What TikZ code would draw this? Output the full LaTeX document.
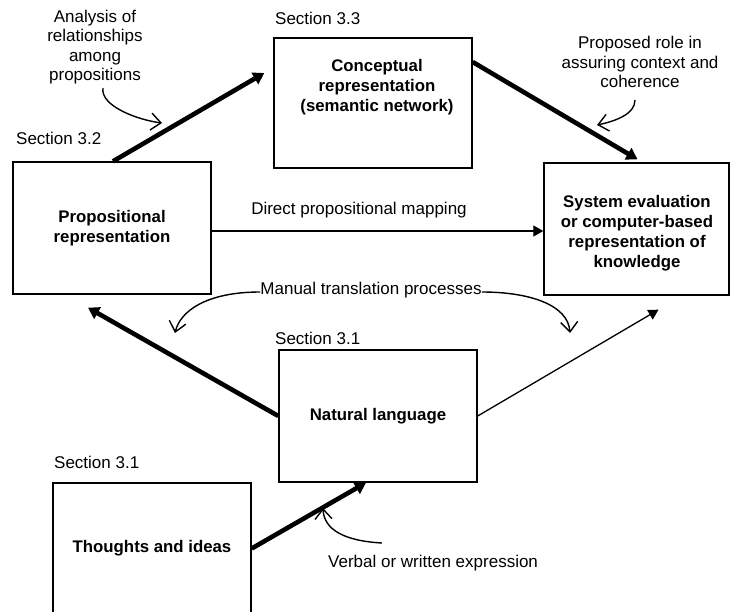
\documentclass[tikz,border=0pt]{standalone}
\usepackage{fontspec}
\setmainfont{Liberation Sans}
\usetikzlibrary{arrows.meta}
\begin{document}
\begin{tikzpicture}[x=1pt,y=-1pt,
  every node/.style={font=\fontsize{17}{19.5}\selectfont},
  box/.style={draw, line width=1.4pt, inner sep=0pt, align=center,
    minimum width=198pt, minimum height=132pt,
    font=\fontsize{16.8}{19.8}\selectfont\bfseries},
  lbl/.style={inner sep=0pt, align=center},
  boldlbl/.style={inner sep=0pt, align=center, font=\fontsize{16.8}{19.8}\selectfont\bfseries},
  heavy/.style={line width=4.6pt, -{Triangle[length=11pt,width=13pt]}},
  light/.style={line width=1.3pt, -{Triangle[length=10pt,width=11pt]}},
  note/.style={line width=1.4pt, -{Straight Barb[length=10pt,width=17pt]}}]
\useasboundingbox (0,0) rectangle (731,612);

% boxes
\node[box] (prop) at (112,228) {Propositional\\representation};
\node[box, minimum height=130pt] (concept) at (373,103) {};
\node[boldlbl] (concepttxt) at (377,87) {Conceptual\\representation\\(semantic network)};
\node[box, minimum width=185pt] (system) at (636.5,229) {};
\node[boldlbl] (systemtxt) at (637,233) {System evaluation\\or computer-based\\representation of\\knowledge};
\node[box] (nl) at (378,416) {Natural language};
\node[box, minimum height=131pt] (thoughts) at (152,548.5) {Thoughts and ideas};

% section labels
\node[lbl, anchor=west] (sec32) at (16,138) {Section 3.2};
\node[lbl, anchor=west] (sec33) at (275,18) {Section 3.3};
\node[lbl, anchor=west] (sec31a) at (275,338) {Section 3.1};
\node[lbl, anchor=west] (sec31b) at (54,462) {Section 3.1};

% annotations
\node[lbl] (anal) at (95,47) {Analysis of\\relationships\\among\\propositions};
\node[lbl] (role) at (640,62) {Proposed role in\\assuring context and\\coherence};
\node[lbl] (direct) at (359,210) {Direct propositional mapping};
\node[lbl] (manual) at (371,290) {Manual translation processes};
\node[lbl, anchor=west] (verbal) at (328,563) {Verbal or written expression};

% main connectors
\draw[heavy] ([xshift=1pt]prop.north) -- ([shift={(-9,-30)}]concept.west);
\draw[heavy] ([shift={(0,-41)}]concept.east) -- ([shift={(1,-3)}]system.north);
\draw[light] ([yshift=-3pt]prop.east) -- ([yshift=-2pt]system.west);
\draw[heavy] (nl.west) -- ([shift={(-24,13)}]prop.south);
\draw[light] (nl.east) -- ([shift={(22,14)}]system.south);
\draw[heavy] (thoughts.east) -- ([xshift=-12pt]nl.south);

% curved annotation arrows
\coordinate (a1) at (103,88);
\coordinate (a1t) at (162,123);
\draw[note] (a1) .. controls (100,106) and (138,120) .. (a1t);
\coordinate (b1) at (635,100);
\coordinate (b1t) at (597,125);
\draw[note] (b1) .. controls (635,114) and (616,121) .. (b1t);
\coordinate (m1t) at (175,333);
\draw[note] ([yshift=-2pt]manual.west) .. controls (205,292) and (180,312) .. (m1t);
\coordinate (m2t) at (570,333);
\draw[note] ([yshift=-2pt]manual.east) .. controls (530,292) and (568,305) .. (m2t);
\coordinate (v1) at (382,543);
\coordinate (v1t) at (323,508);
\draw[note] (v1) .. controls (345,541) and (324,530) .. (v1t);
\end{tikzpicture}
\end{document}
